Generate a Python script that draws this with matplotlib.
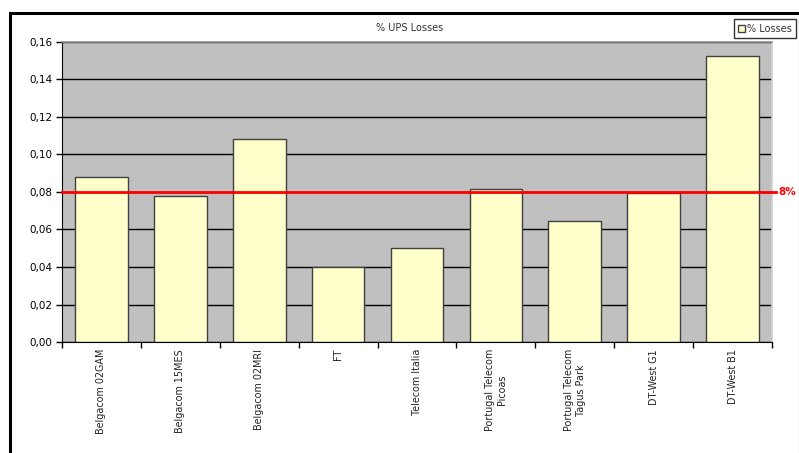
import matplotlib
matplotlib.use("Agg")
import matplotlib.pyplot as plt
from matplotlib.patches import Rectangle
from matplotlib.ticker import FixedLocator, FuncFormatter

categories = ["Belgacom 02GAM", "Belgacom 15MES", "Belgacom 02MRI", "FT", "Telecom Italia",
              "Portugal Telecom\nPicoas", "Portugal Telecom\nTagus Park", "DT-West G1", "DT-West B1"]
losses = [0.0878, 0.0777, 0.1083, 0.0398, 0.0500, 0.0818, 0.0644, 0.0795, 0.1525]
threshold = 0.08
yticks = [0.00, 0.02, 0.04, 0.06, 0.08, 0.10, 0.12, 0.14, 0.16]

W, H = 799, 453
fig = plt.figure(figsize=(W/100, H/100), dpi=100)
fig.patch.set_facecolor("white")

# outer chart border
fig.patches.append(Rectangle((10/W, -0.05), (W - 9)/W, (H - 13)/H + 0.05, transform=fig.transFigure,
                             fill=False, edgecolor="black", linewidth=2.2, zorder=0))

left, right, top, bottom = 62, 772, 42, 342
ax = fig.add_axes([left/W, 1 - bottom/H, (right - left)/W, (bottom - top)/H])
ax.set_facecolor("#c0c0c0")

x = list(range(len(categories)))
ax.bar(x, losses, width=0.667, color="#ffffcc", edgecolor="#404040", linewidth=1.0, zorder=3,
       label="% Losses")
ax.set_xlim(-0.5, len(categories) - 0.5)
ax.set_ylim(0, 0.16)
ax.yaxis.set_major_locator(FixedLocator(yticks))
ax.yaxis.set_major_formatter(FuncFormatter(lambda v, p: f"{v:.2f}".replace(".", ",")))
ax.grid(axis="y", color="black", linewidth=1.0, zorder=1)
ax.set_axisbelow(True)

ax.set_xticks(x)
ax.set_xticklabels(categories, rotation=90, fontsize=6.9, color="#222222", va="top", ha="center",
                   multialignment="center")
ax.tick_params(axis="x", length=0, pad=5)
# ticks between categories
ax.set_xticks([i - 0.5 for i in range(len(categories) + 1)], minor=True)
ax.tick_params(axis="x", which="minor", length=4, width=1, color="black", direction="out")
ax.tick_params(axis="y", length=4, width=1, color="black", direction="out", labelsize=7.5, pad=3)

for s in ["top", "right"]:
    ax.spines[s].set_color("#909090")
    ax.spines[s].set_linewidth(1.2)
ax.spines["right"].set_color("#d0d0d0")
ax.spines["left"].set_color("black")
ax.spines["bottom"].set_color("black")
ax.spines["bottom"].set_zorder(5)

# threshold line extending slightly past the plot area
ax.plot([-0.5, len(categories) - 0.5 + 0.05], [threshold, threshold], color="#ff0000",
        linewidth=2.0, zorder=4, clip_on=False)
ax.text(len(categories) - 0.5 + 0.08, threshold, f"{threshold*100:.0f}%", color="#ff0000",
        fontsize=7.5, fontweight="bold", va="center", ha="left", clip_on=False)

fig.text(410/W, 1 - 28/H, "% UPS Losses", ha="center", va="center", fontsize=7, color="#333333")

leg = fig.legend(loc="center", bbox_to_anchor=(765/W, 1 - 28.5/H), fontsize=7, frameon=True,
                 fancybox=False, edgecolor="black", handlelength=0.7, handleheight=0.7,
                 handletextpad=0.2, borderpad=0.45, borderaxespad=0)
leg.get_frame().set_linewidth(1.0)
for t in leg.get_texts():
    t.set_color("#333333")

fig.savefig("out.png", dpi=100)
